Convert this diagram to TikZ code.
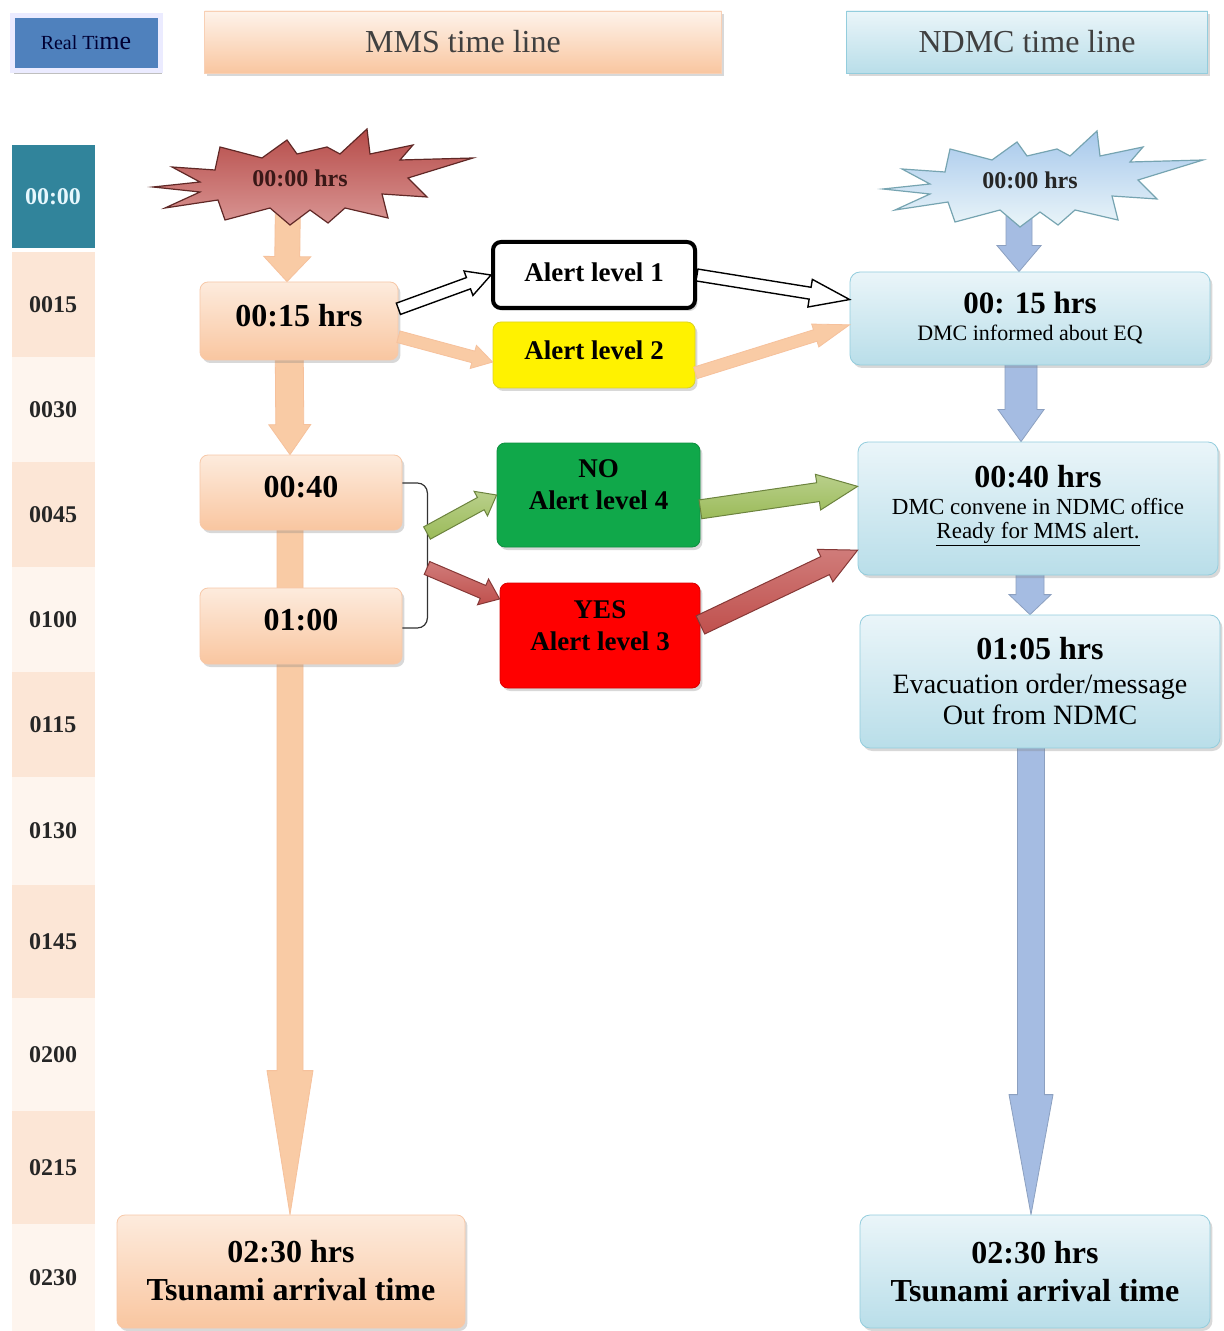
\documentclass[tikz,border=0pt]{standalone}
\usepackage{fontspec}
\setmainfont{Liberation Serif}
\usetikzlibrary{calc,shadows,backgrounds}

\definecolor{peachA}{HTML}{FDEBDD}
\definecolor{peachB}{HTML}{F9C6A0}
\definecolor{peachE}{HTML}{F4B183}
\definecolor{blueA}{HTML}{EAF5F9}
\definecolor{blueB}{HTML}{B9DEE9}
\definecolor{blueE}{HTML}{93CDDD}
\definecolor{cellA}{HTML}{FCE6D6}
\definecolor{cellB}{HTML}{FEF5EE}
\definecolor{tealcell}{HTML}{31849B}
\definecolor{rtblue}{HTML}{4F81BD}
\definecolor{burstred}{HTML}{C0504D}
\definecolor{arrowpeach}{HTML}{F9CBA5}
\definecolor{arrowblue}{HTML}{A5BCE2}
\definecolor{okgreen}{HTML}{10A84A}
\definecolor{arrowgreen}{HTML}{9BBB59}

% block arrow: [style]{from}{to}{shaft half width}{head half width}{head length}
\newcommand{\fatarrow}[6][]{%
  \coordinate (fa-h) at ($(#3)!#6!(#2)$);
  \draw[#1] ($(#2)!#4!90:(#3)$) -- ($(fa-h)!#4!90:(#3)$) -- ($(fa-h)!#5!90:(#3)$) -- (#3)
    -- ($(fa-h)!#5!-90:(#3)$) -- ($(fa-h)!#4!-90:(#3)$) -- ($(#2)!#4!-90:(#3)$) -- cycle;}

\begin{document}
\begin{tikzpicture}[x=0.5pt, y=-0.5pt,
    shade/.style={drop shadow={shadow xshift=1.2pt, shadow yshift=-1.5pt, opacity=0.3}},
    cell/.style={rectangle, minimum width=41.5pt, font={\fontsize{12}{14}\selectfont\bfseries}, text=black!85},
    header/.style={rectangle, minimum height=31pt, font={\fontsize{16}{19}\selectfont}, text=black!75, shade},
    mmsbox/.style={rectangle, rounded corners=4pt, draw=peachE!70, top color=peachA, bottom color=peachB, align=center, text depth=6pt, font={\fontsize{16}{19}\selectfont\bfseries}, shade},
    ndmcbox/.style={rectangle, rounded corners=5pt, draw=blueE, top color=blueA, bottom color=blueB, align=center, minimum width=180pt, font={\fontsize{11}{12}\selectfont}, shade},
    alertbox/.style={rectangle, rounded corners=4pt, minimum width=101pt, align=center, font={\fontsize{13.5}{16}\selectfont\bfseries}, shade},
    bursttext/.style={font={\fontsize{12}{14}\selectfont\bfseries}},
    mmsarrow/.style={left color=arrowpeach, middle color=peachA, right color=arrowpeach, draw=peachE!80, line width=0.4pt},
    ndmcarrow/.style={left color=arrowblue, middle color=blueA!70!arrowblue, right color=arrowblue, draw=arrowblue!85!black, line width=0.4pt},
    hollow/.style={fill=white, draw=black, line width=0.7pt},
    goarrow/.style={top color=arrowgreen!70, bottom color=arrowgreen, draw=arrowgreen!70!black, line width=0.5pt},
    stoparrow/.style={top color=burstred!75, bottom color=burstred, draw=burstred!70!black, line width=0.5pt},
    burst/.pic={\draw[pic actions] (-147,9) -- (-100,4) -- (-128,-11) -- (-85,-8) -- (-80,-31) -- (-38,-20)
      -- (-13,-38) -- (-3,-24) -- (27,-31) -- (40,-24) -- (67,-49) -- (70,-24) -- (113,-33) -- (100,-18)
      -- (173,-20) -- (108,0) -- (127,19) -- (82,16) -- (88,40) -- (45,30) -- (28,45) -- (10,32)
      -- (-10,47) -- (-30,30) -- (-75,42) -- (-82,22) -- (-135,30) -- (-100,14) -- cycle;}
  ]
\useasboundingbox (0,0) rectangle (1224,1331);

% Headers
\node[rectangle, fill=rtblue, draw=blue!8, line width=2.5pt, minimum width=74pt, minimum height=27.5pt, text=blue!20!black, drop shadow={shadow xshift=1pt, shadow yshift=-2pt, opacity=0.5}] (realtime) at (86,43) {\fontsize{10}{12}\selectfont Real Ti{\fontsize{13}{14}\selectfont me}};
\node[header, draw=peachE!60, top color=peachA!60, bottom color=peachB, minimum width=258.5pt] (hmms) at (463,42) {MMS time line};
\node[header, draw=blueE, top color=blueA, bottom color=blueB, minimum width=180.5pt] (hndmc) at (1027,42) {NDMC time line};

% Real time column
\node[cell, fill=tealcell, minimum height=51.5pt, text=cyan!10] (c0000) at (53,196.5) {00:00};
\foreach \lab/\ya/\yb/\col in {0015/252/357/cellA, 0030/357/462/cellB, 0045/462/567/cellA, 0100/567/672/cellB,
    0115/672/777/cellA, 0130/777/885/cellB, 0145/885/998/cellA, 0200/998/1111/cellB, 0215/1111/1224/cellA, 0230/1224/1331/cellB}
  \node[cell, fill=\col, minimum height={(\yb-\ya)*0.5pt}] (c\lab) at (53,{(\ya+\yb)/2}) {\lab};

% MMS time line
\pic[top color=burstred!95!black, bottom color=burstred!60, draw=burstred!50!black, line width=0.6pt] at (300,178) {burst};
\node[bursttext, text=burstred!30!black] (burstmms) at (300,178) {00:00 hrs};
\node[mmsbox, minimum width=99pt, minimum height=39pt] (mms015) at (299,321) {00:15 hrs};
\node[mmsbox, minimum width=101pt, minimum height=37.5pt] (mms040) at (301,492.5) {00:40};
\node[mmsbox, minimum width=101pt, minimum height=38pt] (mms100) at (301,626) {01:00};
\node[mmsbox, minimum width=174pt, minimum height=56.5pt, text depth=1pt] (mms230) at (291,1271.5) {02:30 hrs\\Tsunami arrival time};

% Alerts
\node[alertbox, fill=white, draw=black, line width=2pt, minimum height=33pt, text depth=3pt] (alert1) at (594,275) {Alert level 1};
\node[alertbox, fill=yellow, draw=yellow!85!black, minimum height=33pt, text depth=5pt] (alert2) at (594,355) {Alert level 2};
\node[alertbox, fill=okgreen, draw=okgreen!85!black, minimum width=101.5pt, minimum height=52pt, text depth=10pt] (alert4) at (598.5,495) {NO\\Alert level 4};
\node[alertbox, fill=red, draw=red!85!black, minimum width=100pt, minimum height=52.5pt, text depth=10pt] (alert3) at (600,635.5) {YES\\Alert level 3};

% NDMC time line
\pic[top color=blueB!90!blue, bottom color=blueA, draw=blueE!80!black, line width=0.6pt] at (1030,180) {burst};
\node[bursttext, text=black!85] (burstndmc) at (1030,180) {00:00 hrs};
\node[ndmcbox, minimum height=46.5pt] (ndmc015) at (1030,318.5) {{\fontsize{15.5}{18}\selectfont\bfseries 00: 15 hrs}\\[1.5pt]DMC informed about EQ};
\node[ndmcbox, minimum height=66.5pt, font={\fontsize{11.5}{12}\selectfont}, text depth=7pt] (ndmc040) at (1038,508.5) {{\fontsize{16}{19}\selectfont\bfseries 00:40 hrs}\\[1.5pt]DMC convene in NDMC office\\\underline{Ready for MMS alert.}};
\node[ndmcbox, minimum height=66.5pt, font={\fontsize{14}{15}\selectfont}] (ndmc105) at (1040,681.5) {{\fontsize{16}{19}\selectfont\bfseries 01:05 hrs}\\[2pt]Evacuation order/message\\[0.5pt]Out from NDMC};
\node[ndmcbox, minimum width=175pt, minimum height=56.5pt, font={\fontsize{16}{19}\selectfont\bfseries}] (ndmc230) at (1035,1271.5) {02:30 hrs\\Tsunami arrival time};

% Bracket joining 00:40 and 01:00
\draw[black!80, line width=0.6pt, rounded corners=5pt] ([yshift=4.75pt]mms040.east) -- ++(25,0) -- ++(0,145) -- ([yshift=-1pt]mms100.east);
\coordinate (brkgo) at (427,533);
\coordinate (brkstop) at (427,568);

% Arrows
\fatarrow[hollow]{mms015.7}{alert1.west}{3pt}{6.5pt}{12pt}
\fatarrow[hollow]{alert1.east}{ndmc015.174}{3pt}{7pt}{20pt}
\fatarrow[mmsarrow]{mms015.-9}{alert2.184}{3pt}{6pt}{10pt}
\fatarrow[mmsarrow]{alert2.-10}{ndmc015.182}{3pt}{6pt}{18pt}
\fatarrow[goarrow]{brkgo}{alert4.west}{3.5pt}{7pt}{9pt}
\fatarrow[stoparrow]{brkstop}{alert3.160}{3.5pt}{7pt}{9pt}
\fatarrow[goarrow]{alert4.-8}{ndmc040.173}{4.75pt}{9pt}{20pt}
\fatarrow[stoparrow]{alert3.6}{ndmc040.193}{5pt}{9pt}{18pt}

\begin{scope}[on background layer]
  \fill[white] (0,0) rectangle (1224,1331);
  \coordinate (m1s) at ($(burstmms)+(-12,15)$);
  \coordinate (m1e) at ($(mms015.north)+(-12,0)$);
  \coordinate (m2s) at ($(mms015)+(-10,0)$);
  \coordinate (m2e) at ($(mms040.north)+(-11,0)$);
  \coordinate (m3s) at ($(mms040)+(-11,0)$);
  \coordinate (m3e) at ($(mms230.north)+(-1,0)$);
  \coordinate (n1s) at ($(burstndmc)+(-11,15)$);
  \coordinate (n1e) at ($(ndmc015.north)+(-11,0)$);
  \coordinate (n2s) at ($(ndmc015)+(-9,0)$);
  \coordinate (n2e) at ($(ndmc040.north)+(-17,0)$);
  \coordinate (n3s) at ($(ndmc040)+(-8,0)$);
  \coordinate (n3e) at ($(ndmc105.north)+(-10,0)$);
  \coordinate (n4s) at ($(ndmc105)+(-9,0)$);
  \coordinate (n4e) at ($(ndmc230.north)+(-4,0)$);
  \fatarrow[mmsarrow]{m1s}{m1e}{6.25pt}{11.75pt}{12.5pt}
  \fatarrow[mmsarrow]{m2s}{m2e}{7pt}{10.5pt}{15pt}
  \fatarrow[mmsarrow]{m3s}{m3e}{6.5pt}{11.5pt}{72pt}
  \fatarrow[ndmcarrow]{n1s}{n1e}{6.5pt}{11pt}{13pt}
  \fatarrow[ndmcarrow]{n2s}{n2e}{8pt}{11.5pt}{16pt}
  \fatarrow[ndmcarrow]{n3s}{n3e}{7pt}{10.5pt}{10pt}
  \fatarrow[ndmcarrow]{n4s}{n4e}{6.75pt}{11pt}{60pt}
\end{scope}
\end{tikzpicture}
\end{document}
